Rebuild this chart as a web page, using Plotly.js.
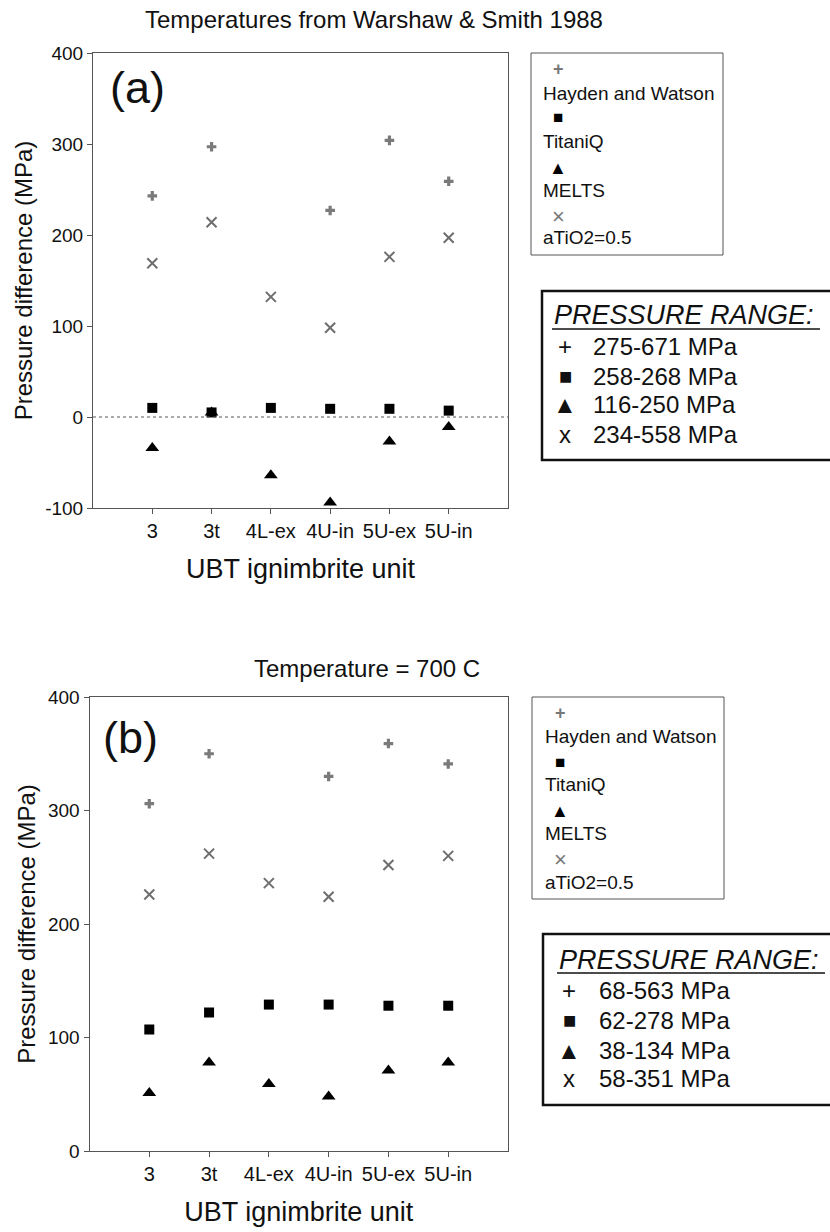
<!DOCTYPE html>
<html>
<head>
<meta charset="utf-8">
<script src="https://cdn.plot.ly/plotly-3.0.1.min.js"></script>
<style>html,body{margin:0;padding:0;background:#fff;}#chart{width:830px;height:1232px;}</style>
</head>
<body>
<div id="chart"></div>
<script>
// ---- data ----
const categories = ['3', '3t', '4L-ex', '4U-in', '5U-ex', '5U-in'];
const seriesNames = ['Hayden and Watson', 'TitaniQ', 'MELTS', 'aTiO2=0.5'];

// panel (a): temperatures from Warshaw & Smith 1988
const haydenA  = [243, 297, null, 227, 304, 259];
const titaniqA = [10, 5, 10, 9, 9, 7];
const meltsA   = [-34, 5, -64, -94, -27, -11];
const atio2A   = [169, 214, 132, 98, 176, 197];

// panel (b): temperature = 700 C
const haydenB  = [306, 350, null, 330, 359, 341];
const titaniqB = [107, 122, 129, 129, 128, 128];
const meltsB   = [51, 78, 59, 48, 71, 78];
const atio2B   = [226, 262, 236, 224, 252, 260];

// y tick values and labels
const yTicksA = [-100, 0, 100, 200, 300, 400];
const yTickTextA = ['-100', '0', '100', '200', '300', '400'];
const yTicksB = [0, 100, 200, 300, 400];
const yTickTextB = ['0', '100', '200', '300', '400'];

const rangeLabelsA = ['275-671 MPa', '258-268 MPa', '116-250 MPa', '234-558 MPa'];
const rangeLabelsB = ['68-563 MPa', '62-278 MPa', '38-134 MPa', '58-351 MPa'];
const rangeSymbols = ['+', '\u25A0', '\u25B2', 'x'];

// ---- helpers ----
const W = 830, H = 1232;
const px = x => x / W;
const py = y => 1 - y / H;
const FONT = 'Liberation Sans, Arial, sans-serif';

const styles = [
  {symbol: 'cross', size: 8, color: '#7a7a7a', line: {width: 0}},
  {symbol: 'square', size: 10, color: '#000', line: {width: 0}},
  {symbol: 'triangle-up', size: 12, color: '#000', line: {width: 0}},
  {symbol: 'x-thin', size: 10, color: '#6e6e6e', line: {width: 2, color: '#6e6e6e'}}
];

function traces(data, xa, ya) {
  return data.map((ys, i) => ({
    type: 'scatter', mode: 'markers', x: categories, y: ys,
    xaxis: xa, yaxis: ya, name: seriesNames[i], showlegend: false,
    marker: styles[i], hoverinfo: 'x+y'
  }));
}

const data = [].concat(
  traces([haydenA, titaniqA, meltsA, atio2A], 'x', 'y'),
  traces([haydenB, titaniqB, meltsB, atio2B], 'x2', 'y2')
);

function xaxis(domain, anchor) {
  return {
    domain: domain, anchor: anchor, type: 'category', range: [-1, 6],
    showline: true, mirror: true, linecolor: '#555', linewidth: 1,
    ticks: 'outside', ticklen: 5, tickcolor: '#555', showgrid: false, zeroline: false,
    tickfont: {family: FONT, size: 20, color: '#111'},
    title: {text: 'UBT ignimbrite unit', font: {family: FONT, size: 27, color: '#111'}, standoff: 18}
  };
}
function yaxis(domain, anchor, range, tv, tt) {
  return {
    domain: domain, anchor: anchor, range: range, tickmode: 'array', tickvals: tv, ticktext: tt,
    showline: true, mirror: true, linecolor: '#555', linewidth: 1,
    ticks: 'outside', ticklen: 5, tickcolor: '#555', showgrid: false, zeroline: false,
    tickfont: {family: FONT, size: 19, color: '#111'},
    title: {text: 'Pressure difference (MPa)', font: {family: FONT, size: 24, color: '#111'}, standoff: 5}
  };
}

const shapes = [];
const annotations = [];

function ann(x, y, text, size, opts) {
  annotations.push(Object.assign({
    xref: 'paper', yref: 'paper', x: px(x), y: py(y), text: text,
    showarrow: false, xanchor: 'left', yanchor: 'middle',
    font: {family: FONT, size: size, color: '#111'}
  }, opts || {}));
}

function legendBox(x0, y0, x1, y1, rows, mx, tx) {
  shapes.push({type: 'rect', xref: 'paper', yref: 'paper', x0: px(x0), x1: px(x1), y0: py(y0), y1: py(y1),
    line: {color: '#555', width: 1}});
  const glyphs = [
    {t: '+', size: 18, color: '#777', b: true},
    {t: '\u25A0', size: 17, color: '#000'},
    {t: '\u25B2', size: 18, color: '#000'},
    {t: '\u00D7', size: 22, color: '#777'}
  ];
  rows.forEach((r, i) => {
    const g = glyphs[i];
    ann(mx, r[0], g.b ? '<b>' + g.t + '</b>' : g.t, g.size, {xanchor: 'center', font: {family: FONT, size: g.size, color: g.color}});
    ann(tx, r[1], seriesNames[i], 19);
  });
}

function rangeBox(x0, y0, y1, titleXY, underlineY, rowYs, symX, txtX, labels) {
  shapes.push({type: 'rect', xref: 'paper', yref: 'paper', x0: px(x0), x1: px(835), y0: py(y0), y1: py(y1),
    line: {color: '#111', width: 2.5}});
  ann(titleXY[0], titleXY[1], '<i>PRESSURE RANGE:</i>', 27);
  shapes.push({type: 'line', xref: 'paper', yref: 'paper', x0: px(titleXY[0]), x1: px(titleXY[0] + 268),
    y0: py(underlineY), y1: py(underlineY), line: {color: '#111', width: 1.5}});
  const symSizes = [24, 22, 24, 24];
  rowYs.forEach((yy, i) => {
    ann(symX, yy, rangeSymbols[i], symSizes[i], {xanchor: 'center'});
    ann(txtX, yy, labels[i], 24);
  });
}

// panel (a) decorations
legendBox(531, 53, 723, 255, [[69, 93], [118, 141], [168, 191], [216, 237]], 558, 541);
rangeBox(542, 291, 460, [552, 315], 329, [347, 376, 405, 434], 565, 591, rangeLabelsA);
ann(137, 88, '(a)', 45, {xanchor: 'center'});
// dotted zero line
shapes.push({type: 'line', xref: 'x domain', yref: 'y', x0: 0, x1: 1, y0: 0, y1: 0,
  line: {color: '#555', width: 1, dash: 'dot'}});

// panel (b) decorations
legendBox(532, 697, 724, 899, [[713, 736], [762, 784], [811, 833], [859, 882]], 560, 543);
rangeBox(543, 934, 1105, [557, 960], 973, [990, 1020, 1050, 1078], 569, 597, rangeLabelsB);
ann(130, 737, '(b)', 45, {xanchor: 'center'});
ann(367, 668, 'Temperature = 700 C', 24, {xanchor: 'center'});

const layout = {
  width: W, height: H,
  margin: {l: 0, r: 0, t: 0, b: 0},
  paper_bgcolor: '#fff', plot_bgcolor: '#fff',
  showlegend: false,
  title: {text: 'Temperatures from Warshaw & Smith 1988', font: {family: FONT, size: 24, color: '#111'},
    xref: 'paper', yref: 'paper', x: px(374), y: py(20), xanchor: 'center', yanchor: 'middle'},
  xaxis: xaxis([px(93), px(508)], 'y'),
  yaxis: yaxis([py(508), py(53)], 'x', [-100, 400], yTicksA, yTickTextA),
  xaxis2: xaxis([px(89.5), px(508)], 'y2'),
  yaxis2: yaxis([py(1151), py(697)], 'x2', [0, 400], yTicksB, yTickTextB),
  shapes: shapes,
  annotations: annotations
};

Plotly.newPlot('chart', data, layout, {displayModeBar: false, staticPlot: true});
</script>
</body>
</html>
